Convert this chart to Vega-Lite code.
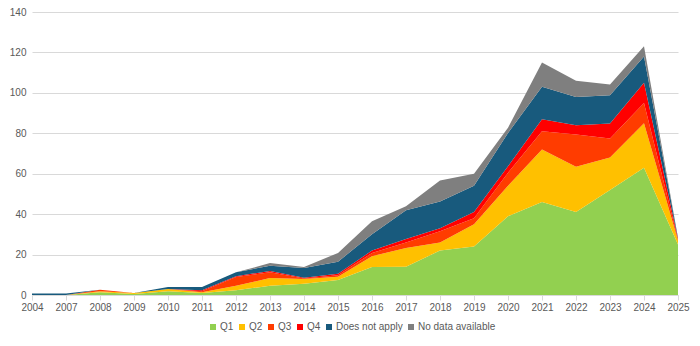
{
  "$schema": "https://vega.github.io/schema/vega-lite/v6.json",
  "width": 646,
  "height": 283,
  "autosize": {"type": "none"},
  "padding": {"left": 32, "top": 12, "right": 22, "bottom": 51},
  "background": "white",
  "config": {
    "view": {"stroke": null},
    "font": "Liberation Sans",
    "axis": {"labelColor": "#595959", "labelFontSize": 10, "titleFontSize": 10}
  },
  "data": {"values": [
    {"year":"2004","series":"Q1","value":0,"k":1},{"year":"2004","series":"Q2","value":0,"k":2},{"year":"2004","series":"Q3","value":0,"k":3},{"year":"2004","series":"Q4","value":0,"k":4},{"year":"2004","series":"Does not apply","value":0.7,"k":5},{"year":"2004","series":"No data available","value":0,"k":6},
    {"year":"2007","series":"Q1","value":0,"k":1},{"year":"2007","series":"Q2","value":0,"k":2},{"year":"2007","series":"Q3","value":0,"k":3},{"year":"2007","series":"Q4","value":0,"k":4},{"year":"2007","series":"Does not apply","value":0.7,"k":5},{"year":"2007","series":"No data available","value":0,"k":6},
    {"year":"2008","series":"Q1","value":1.3,"k":1},{"year":"2008","series":"Q2","value":0.5,"k":2},{"year":"2008","series":"Q3","value":0.8,"k":3},{"year":"2008","series":"Q4","value":0,"k":4},{"year":"2008","series":"Does not apply","value":0,"k":5},{"year":"2008","series":"No data available","value":0,"k":6},
    {"year":"2009","series":"Q1","value":0.5,"k":1},{"year":"2009","series":"Q2","value":0.5,"k":2},{"year":"2009","series":"Q3","value":0,"k":3},{"year":"2009","series":"Q4","value":0,"k":4},{"year":"2009","series":"Does not apply","value":0,"k":5},{"year":"2009","series":"No data available","value":0,"k":6},
    {"year":"2010","series":"Q1","value":1.8,"k":1},{"year":"2010","series":"Q2","value":1.2,"k":2},{"year":"2010","series":"Q3","value":0,"k":3},{"year":"2010","series":"Q4","value":0,"k":4},{"year":"2010","series":"Does not apply","value":1,"k":5},{"year":"2010","series":"No data available","value":0,"k":6},
    {"year":"2011","series":"Q1","value":1,"k":1},{"year":"2011","series":"Q2","value":0.3,"k":2},{"year":"2011","series":"Q3","value":0.5,"k":3},{"year":"2011","series":"Q4","value":0.5,"k":4},{"year":"2011","series":"Does not apply","value":1.7,"k":5},{"year":"2011","series":"No data available","value":0,"k":6},
    {"year":"2012","series":"Q1","value":2.3,"k":1},{"year":"2012","series":"Q2","value":2.3,"k":2},{"year":"2012","series":"Q3","value":4.3,"k":3},{"year":"2012","series":"Q4","value":0.4,"k":4},{"year":"2012","series":"Does not apply","value":1.9,"k":5},{"year":"2012","series":"No data available","value":0,"k":6},
    {"year":"2013","series":"Q1","value":4.6,"k":1},{"year":"2013","series":"Q2","value":3.8,"k":2},{"year":"2013","series":"Q3","value":2.8,"k":3},{"year":"2013","series":"Q4","value":0.7,"k":4},{"year":"2013","series":"Does not apply","value":2.6,"k":5},{"year":"2013","series":"No data available","value":1.3,"k":6},
    {"year":"2014","series":"Q1","value":5.6,"k":1},{"year":"2014","series":"Q2","value":2.3,"k":2},{"year":"2014","series":"Q3","value":0.3,"k":3},{"year":"2014","series":"Q4","value":0.3,"k":4},{"year":"2014","series":"Does not apply","value":4.9,"k":5},{"year":"2014","series":"No data available","value":0.5,"k":6},
    {"year":"2015","series":"Q1","value":7.4,"k":1},{"year":"2015","series":"Q2","value":1.6,"k":2},{"year":"2015","series":"Q3","value":0.8,"k":3},{"year":"2015","series":"Q4","value":0.7,"k":4},{"year":"2015","series":"Does not apply","value":6,"k":5},{"year":"2015","series":"No data available","value":4.3,"k":6},
    {"year":"2016","series":"Q1","value":13.8,"k":1},{"year":"2016","series":"Q2","value":5.4,"k":2},{"year":"2016","series":"Q3","value":1.6,"k":3},{"year":"2016","series":"Q4","value":1.2,"k":4},{"year":"2016","series":"Does not apply","value":8,"k":5},{"year":"2016","series":"No data available","value":6.5,"k":6},
    {"year":"2017","series":"Q1","value":14,"k":1},{"year":"2017","series":"Q2","value":9.3,"k":2},{"year":"2017","series":"Q3","value":2.7,"k":3},{"year":"2017","series":"Q4","value":1.7,"k":4},{"year":"2017","series":"Does not apply","value":14.2,"k":5},{"year":"2017","series":"No data available","value":2,"k":6},
    {"year":"2018","series":"Q1","value":22,"k":1},{"year":"2018","series":"Q2","value":4,"k":2},{"year":"2018","series":"Q3","value":5.5,"k":3},{"year":"2018","series":"Q4","value":1.5,"k":4},{"year":"2018","series":"Does not apply","value":13.3,"k":5},{"year":"2018","series":"No data available","value":10.4,"k":6},
    {"year":"2019","series":"Q1","value":24,"k":1},{"year":"2019","series":"Q2","value":11,"k":2},{"year":"2019","series":"Q3","value":3,"k":3},{"year":"2019","series":"Q4","value":3,"k":4},{"year":"2019","series":"Does not apply","value":13,"k":5},{"year":"2019","series":"No data available","value":6,"k":6},
    {"year":"2020","series":"Q1","value":39,"k":1},{"year":"2020","series":"Q2","value":15,"k":2},{"year":"2020","series":"Q3","value":6.5,"k":3},{"year":"2020","series":"Q4","value":3.2,"k":4},{"year":"2020","series":"Does not apply","value":16.5,"k":5},{"year":"2020","series":"No data available","value":2.5,"k":6},
    {"year":"2021","series":"Q1","value":46,"k":1},{"year":"2021","series":"Q2","value":26,"k":2},{"year":"2021","series":"Q3","value":9,"k":3},{"year":"2021","series":"Q4","value":6,"k":4},{"year":"2021","series":"Does not apply","value":16,"k":5},{"year":"2021","series":"No data available","value":12,"k":6},
    {"year":"2022","series":"Q1","value":41,"k":1},{"year":"2022","series":"Q2","value":22.4,"k":2},{"year":"2022","series":"Q3","value":16,"k":3},{"year":"2022","series":"Q4","value":4.6,"k":4},{"year":"2022","series":"Does not apply","value":14,"k":5},{"year":"2022","series":"No data available","value":8,"k":6},
    {"year":"2023","series":"Q1","value":52,"k":1},{"year":"2023","series":"Q2","value":16,"k":2},{"year":"2023","series":"Q3","value":9.4,"k":3},{"year":"2023","series":"Q4","value":7.4,"k":4},{"year":"2023","series":"Does not apply","value":14,"k":5},{"year":"2023","series":"No data available","value":5.3,"k":6},
    {"year":"2024","series":"Q1","value":63,"k":1},{"year":"2024","series":"Q2","value":22,"k":2},{"year":"2024","series":"Q3","value":10,"k":3},{"year":"2024","series":"Q4","value":10,"k":4},{"year":"2024","series":"Does not apply","value":13,"k":5},{"year":"2024","series":"No data available","value":5,"k":6},
    {"year":"2025","series":"Q1","value":25,"k":1},{"year":"2025","series":"Q2","value":2,"k":2},{"year":"2025","series":"Q3","value":0.5,"k":3},{"year":"2025","series":"Q4","value":0.5,"k":4},{"year":"2025","series":"Does not apply","value":0.3,"k":5},{"year":"2025","series":"No data available","value":0,"k":6}
  ]},
  "mark": {"type": "area", "interpolate": "linear"},
  "encoding": {
    "x": {
      "field": "year", "type": "ordinal",
      "scale": {"type": "point", "padding": 0},
      "axis": {"title": null, "labelAngle": 0, "domainColor": "#D9D9D9", "tickColor": "#D9D9D9", "tickSize": 5, "labelPadding": 2, "grid": false}
    },
    "y": {
      "field": "value", "type": "quantitative", "stack": "zero",
      "scale": {"domain": [0, 140], "nice": false},
      "axis": {"title": null, "values": [0,20,40,60,80,100,120,140], "domain": false, "ticks": false, "gridColor": "#D9D9D9", "labelPadding": 6}
    },
    "color": {
      "field": "series", "type": "nominal",
      "scale": {
        "domain": ["Q1","Q2","Q3","Q4","Does not apply","No data available"],
        "range": ["#92D050","#FFC000","#FF3C00","#FF0000","#185A7D","#7F7F7F"]
      },
      "legend": {
        "title": null, "orient": "none", "direction": "horizontal",
        "legendX": 176, "legendY": 310, "gridAlign": "none",
        "symbolType": "square", "symbolSize": 36, "symbolStrokeWidth": 0,
        "labelFontSize": 10, "labelColor": "#595959", "columnPadding": 3, "labelOffset": 2
      }
    },
    "order": {"field": "k", "type": "quantitative"}
  }
}
